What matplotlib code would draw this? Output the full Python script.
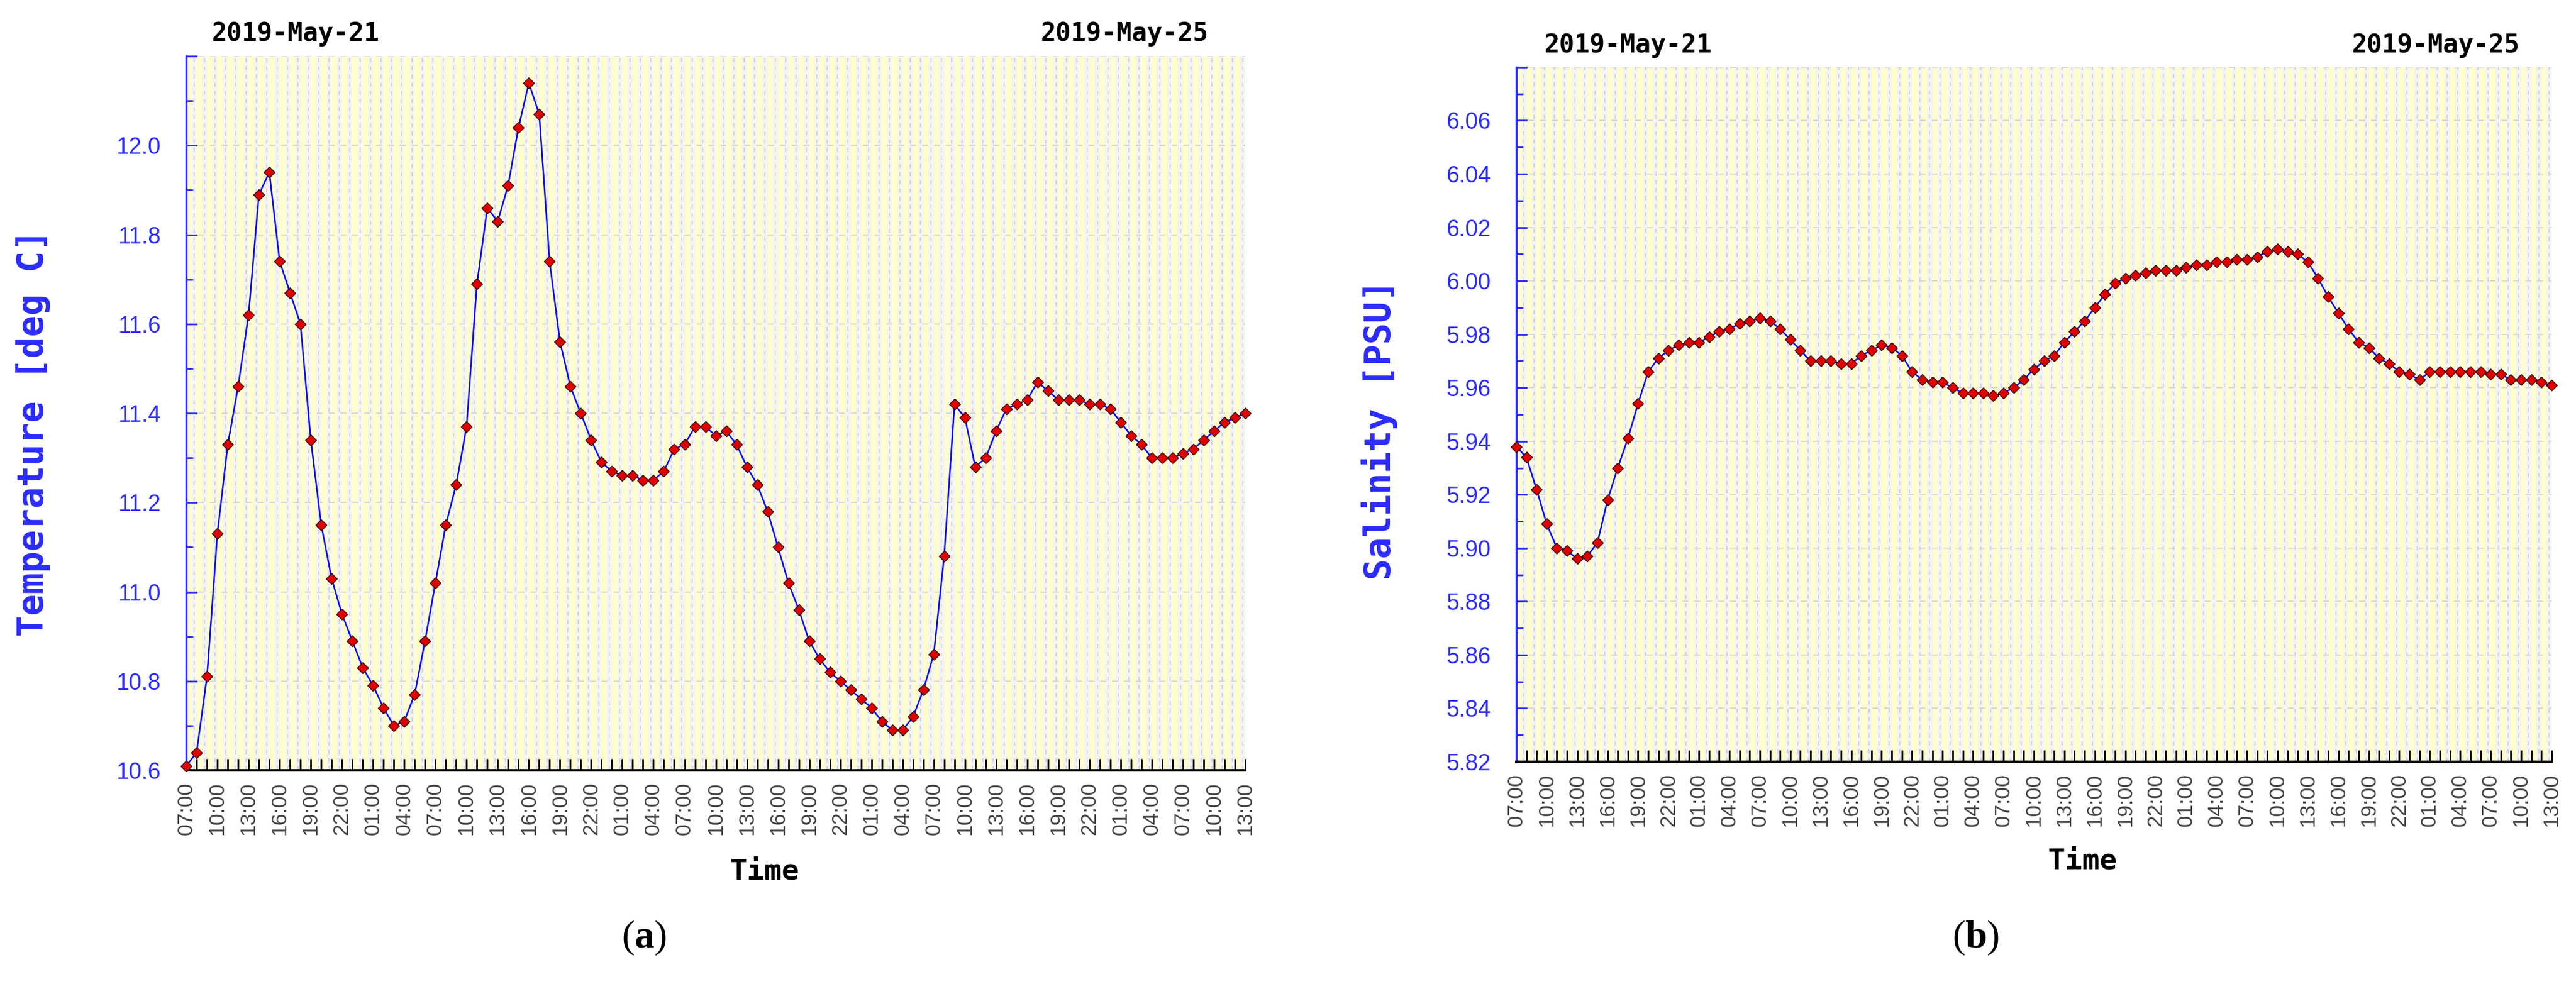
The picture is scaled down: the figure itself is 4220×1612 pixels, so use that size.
import matplotlib
matplotlib.use("Agg")
import matplotlib.pyplot as plt
import numpy as np
from matplotlib.ticker import MultipleLocator, FixedLocator

# hourly samples, hours since 2019-05-21 07:00
hours = np.arange(103)

temperature = [10.61, 10.64, 10.81, 11.13, 11.33, 11.46, 11.62, 11.89, 11.94, 11.74,
               11.67, 11.60, 11.34, 11.15, 11.03, 10.95, 10.89, 10.83, 10.79, 10.74,
               10.70, 10.71, 10.77, 10.89, 11.02, 11.15, 11.24, 11.37, 11.69, 11.86,
               11.83, 11.91, 12.04, 12.14, 12.07, 11.74, 11.56, 11.46, 11.40, 11.34,
               11.29, 11.27, 11.26, 11.26, 11.25, 11.25, 11.27, 11.32, 11.33, 11.37,
               11.37, 11.35, 11.36, 11.33, 11.28, 11.24, 11.18, 11.10, 11.02, 10.96,
               10.89, 10.85, 10.82, 10.80, 10.78, 10.76, 10.74, 10.71, 10.69, 10.69,
               10.72, 10.78, 10.86, 11.08, 11.42, 11.39, 11.28, 11.30, 11.36, 11.41,
               11.42, 11.43, 11.47, 11.45, 11.43, 11.43, 11.43, 11.42, 11.42, 11.41,
               11.38, 11.35, 11.33, 11.30, 11.30, 11.30, 11.31, 11.32, 11.34, 11.36,
               11.38, 11.39, 11.40]

salinity = [5.938, 5.934, 5.922, 5.909, 5.900, 5.899, 5.896, 5.897, 5.902, 5.918,
            5.930, 5.941, 5.954, 5.966, 5.971, 5.974, 5.976, 5.977, 5.977, 5.979,
            5.981, 5.982, 5.984, 5.985, 5.986, 5.985, 5.982, 5.978, 5.974, 5.970,
            5.970, 5.970, 5.969, 5.969, 5.972, 5.974, 5.976, 5.975, 5.972, 5.966,
            5.963, 5.962, 5.962, 5.960, 5.958, 5.958, 5.958, 5.957, 5.958, 5.960,
            5.963, 5.967, 5.970, 5.972, 5.977, 5.981, 5.985, 5.990, 5.995, 5.999,
            6.001, 6.002, 6.003, 6.004, 6.004, 6.004, 6.005, 6.006, 6.006, 6.007,
            6.007, 6.008, 6.008, 6.009, 6.011, 6.012, 6.011, 6.010, 6.007, 6.001,
            5.994, 5.988, 5.982, 5.977, 5.975, 5.971, 5.969, 5.966, 5.965, 5.963,
            5.966, 5.966, 5.966, 5.966, 5.966, 5.966, 5.965, 5.965, 5.963, 5.963,
            5.963, 5.962, 5.961]

tick_hours = list(range(0, 103, 3))
tick_labels = ["%02d:00" % ((7 + h) % 24) for h in tick_hours]
start_label = "2019-May-21"
end_label = "2019-May-25"

BLUE = "#2b2bff"
YELLOW = "#ffffcc"
GREY = "#f4f4f4"

plt.rcParams["mathtext.fontset"] = "custom"
plt.rcParams["mathtext.bf"] = "Liberation Serif:bold"
plt.rcParams["mathtext.rm"] = "Liberation Serif"

fig = plt.figure(figsize=(42.2, 16.12), dpi=100)
fig.patch.set_facecolor("white")


def draw_panel(ax, y, ylim, major, minor, fmt):
    n = len(hours) - 1
    # striped background: each hour a yellow half and a grey half
    for h in range(n):
        ax.axvspan(h, h + 0.5, color=YELLOW, lw=0, zorder=0)
        ax.axvspan(h + 0.5, h + 1, color=GREY, lw=0, zorder=0)
    for h in range(n):
        ax.axvline(h + 0.75, color="#d0d0d0", lw=1.2, ls=(0, (4, 4)), zorder=1)
    for v in np.arange(ylim[0], ylim[1] + 1e-9, major):
        ax.axhline(v, color="#d8d8d8", lw=1.4, ls=(0, (5, 5)), zorder=1)

    ax.plot(hours, y, color="#0000ff", lw=1.8, zorder=3,
            marker="D", markersize=9, markerfacecolor="#e00000",
            markeredgecolor="#300000", markeredgewidth=1.0, clip_on=False)

    ax.set_xlim(0, n)
    ax.xaxis.set_major_locator(FixedLocator(tick_hours))
    ax.xaxis.set_minor_locator(MultipleLocator(1))
    ax.set_xticklabels(tick_labels, rotation=90, fontsize=25, color="#444444",
                       family=["Liberation Sans", "DejaVu Sans"])
    ax.tick_params(axis="x", which="both", direction="in", length=14, width=2.0,
                   color="black", pad=14)

    ticks = np.arange(ylim[0], ylim[1] + 1e-9, major)
    ax.set_yticks(ticks)
    ax.set_yticklabels([fmt % v if v < ylim[1] - 1e-9 else "" for v in ticks])
    ax.yaxis.set_minor_locator(MultipleLocator(minor))
    ax.set_ylim(*ylim)
    ax.tick_params(axis="y", which="major", direction="in", length=13, width=2.0,
                   color=BLUE, labelcolor=BLUE, labelsize=27, pad=30)
    ax.tick_params(axis="y", which="minor", direction="in", length=8, width=2.0,
                   color=BLUE)
    for lab in ax.get_yticklabels():
        lab.set_family(["Liberation Sans Narrow", "Liberation Sans", "DejaVu Sans"])

    for s in ("top", "right"):
        ax.spines[s].set_visible(False)
    ax.spines["left"].set_color(BLUE)
    ax.spines["left"].set_linewidth(2.5)
    ax.spines["bottom"].set_color("black")
    ax.spines["bottom"].set_linewidth(3.0)


axL = fig.add_axes([0.0723, 0.2171, 0.4111, 0.7258])
axR = fig.add_axes([0.5886, 0.2258, 0.4019, 0.7060])

draw_panel(axL, temperature, (10.6, 12.2), 0.2, 0.1, "%.1f")
draw_panel(axR, salinity, (5.82, 6.08), 0.02, 0.01, "%.2f")

mono = dict(family="DejaVu Sans Mono", fontweight="bold")

# date labels
fig.text(0.0822, 0.9659, start_label, fontsize=30, va="center", ha="left", **mono)
fig.text(0.4040, 0.9659, end_label, fontsize=30, va="center", ha="left", **mono)
fig.text(0.5995, 0.9540, start_label, fontsize=30, va="center", ha="left", **mono)
fig.text(0.9130, 0.9540, end_label, fontsize=30, va="center", ha="left", **mono)

# axis titles
fig.text(0.2969, 0.1141, "Time", fontsize=34, ha="center", va="center", **mono)
fig.text(0.8085, 0.1247, "Time", fontsize=34, ha="center", va="center", **mono)
fig.text(0.013, 0.56, "Temperature [deg C]", fontsize=42, rotation=90, color=BLUE,
         ha="center", va="center", **mono)
fig.text(0.5355, 0.563, "Salinity [PSU]", fontsize=42, rotation=90, color=BLUE,
         ha="center", va="center", **mono)

# panel letters
fig.text(0.25, 0.0465, r"($\mathbf{a}$)", fontsize=46, ha="center", va="center",
         family="Liberation Serif")
fig.text(0.767, 0.0465, r"($\mathbf{b}$)", fontsize=46, ha="center", va="center",
         family="Liberation Serif")

fig.savefig("out.png", dpi=100)
